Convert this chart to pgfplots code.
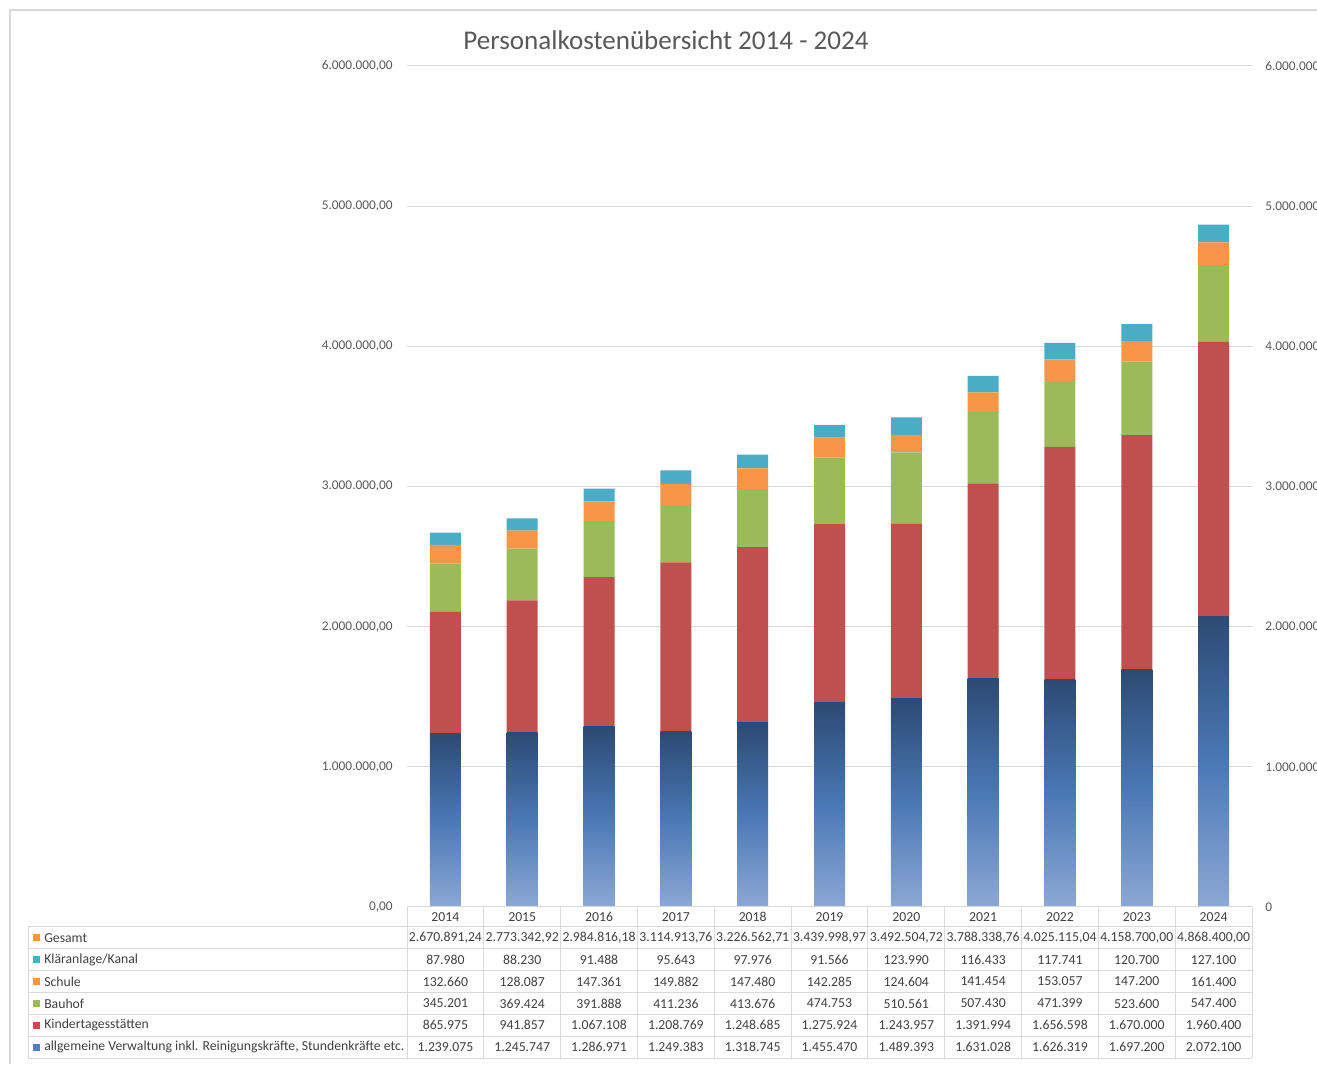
\documentclass[border=0pt]{standalone}
\usepackage{fontspec}
\setmainfont{Carlito}
\usepackage{pgfplots}
\pgfplotsset{compat=1.18}
\definecolor{txt}{HTML}{595959}
\definecolor{tabtxt}{HTML}{404040}
\definecolor{gridgray}{HTML}{D9D9D9}
\definecolor{bordergray}{HTML}{D9D9D9}
\definecolor{cBlueTop}{HTML}{2C4A73}
\definecolor{cBlueMid}{HTML}{4A78B5}
\definecolor{cBlueBot}{HTML}{8CA8D4}
\definecolor{cBlue}{HTML}{4F81BD}
\definecolor{cRed}{HTML}{C0504D}
\definecolor{cGreen}{HTML}{9BBB59}
\definecolor{cOrange}{HTML}{F79646}
\definecolor{cTeal}{HTML}{4BACC6}
\newcommand{\tabrow}[2]{%
  \foreach[count=\i from 0] \v in {#2} {
    \node[text=tabtxt, inner sep=0pt, font=\fontsize{10.3}{12}\selectfont] at ({305.25+(\i+0.5)*57.6136}, #1) {\v};
  }%
}
\newcommand{\tablabel}[3]{%
  \fill[#2] (24.75,{#1-2.6}) rectangle (30,{#1+2.6});
  \node[anchor=west, text=tabtxt, inner sep=0pt, font=\fontsize{10.3}{12}\selectfont] at (33,#1) {#3};
}
\pgfplotsset{blueshade/.style={draw=none, bar shift=0pt, top color=cBlueTop, bottom color=cBlueBot, middle color=cBlueMid}}
\begin{document}
\begin{tikzpicture}[x=1pt,y=1pt]
\path[use as bounding box] (0,0) rectangle (987.75,798);
\clip (0,0) rectangle (987.75,798);
\draw[color=bordergray, line width=1pt] (7.5,0) -- (7.5,790.5) -- (987.75,790.5);
\node[font=\fontsize{20.3}{24}\selectfont, text=txt] at (499.5,768) {Personalkostenübersicht 2014 - 2024};
\begin{axis}[
  at={(305.25pt,117.75pt)}, anchor=south west,
  scale only axis, width=633.75pt, height=630.75pt,
  xmin=-0.5, xmax=10.5, ymin=0, ymax=6000000,
  ybar stacked, bar width=23.25pt,
  axis line style={draw=none}, tick style={draw=none},
  ymajorgrids, grid style={color=gridgray, line width=0.75pt},
  scaled y ticks=false,
  ytick={0,1000000,2000000,3000000,4000000,5000000,6000000},
  yticklabels={{0,00},{1.000.000,00},{2.000.000,00},{3.000.000,00},{4.000.000,00},{5.000.000,00},{6.000.000,00}},
  yticklabel style={anchor=east, inner sep=0pt, xshift=-10.5pt, text=txt, font=\fontsize{10}{12}\selectfont},
  xtick={0,...,10},
  xticklabels={2014,2015,2016,2017,2018,2019,2020,2021,2022,2023,2024},
  xticklabel style={anchor=center, inner sep=0pt, yshift=-7.5pt, text=tabtxt, font=\fontsize{10.3}{12}\selectfont},
  clip=false,
]
% allgemeine Verwaltung (base of the stack; drawn with per-bar shading in the overlay axis below)
\addplot[draw=none, fill=none] coordinates {
 (0,1239075) (1,1245747) (2,1286971) (3,1249383) (4,1318745) (5,1455470)
 (6,1489393) (7,1631028) (8,1626319) (9,1697200) (10,2072100)};
\addplot[draw=none, fill=cRed] coordinates {
 (0,865975) (1,941857) (2,1067108) (3,1208769) (4,1248685) (5,1275924)
 (6,1243957) (7,1391994) (8,1656598) (9,1670000) (10,1960400)};
\addplot[draw=none, fill=cGreen] coordinates {
 (0,345201) (1,369424) (2,391888) (3,411236) (4,413676) (5,474753)
 (6,510561) (7,507430) (8,471399) (9,523600) (10,547400)};
\addplot[draw=none, fill=cOrange] coordinates {
 (0,132660) (1,128087) (2,147361) (3,149882) (4,147480) (5,142285)
 (6,124604) (7,141454) (8,153057) (9,147200) (10,161400)};
\addplot[draw=none, fill=cTeal] coordinates {
 (0,87980) (1,88230) (2,91488) (3,95643) (4,97976) (5,91566)
 (6,123990) (7,116433) (8,117741) (9,120700) (10,127100)};
\end{axis}
\begin{axis}[
  at={(305.25pt,117.75pt)}, anchor=south west,
  scale only axis, width=633.75pt, height=630.75pt,
  xmin=-0.5, xmax=10.5, ymin=0, ymax=6000000,
  ybar, bar width=23.25pt, hide axis,
]
\addplot[blueshade] coordinates {(0,1239075)};
\addplot[blueshade] coordinates {(1,1245747)};
\addplot[blueshade] coordinates {(2,1286971)};
\addplot[blueshade] coordinates {(3,1249383)};
\addplot[blueshade] coordinates {(4,1318745)};
\addplot[blueshade] coordinates {(5,1455470)};
\addplot[blueshade] coordinates {(6,1489393)};
\addplot[blueshade] coordinates {(7,1631028)};
\addplot[blueshade] coordinates {(8,1626319)};
\addplot[blueshade] coordinates {(9,1697200)};
\addplot[blueshade] coordinates {(10,2072100)};
\end{axis}
% right axis labels
\foreach \v/\t in {0/0,1/1.000.000,2/2.000.000,3/3.000.000,4/4.000.000,5/5.000.000,6/6.000.000}
  \node[anchor=west, inner sep=0pt, text=txt, font=\fontsize{10}{12}\selectfont] at (948.75,{117.75+\v*105.125}) {\t};
% table grid
\begin{scope}[color=gridgray, line width=0.75pt]
  \draw (305.25,117.75) -- (939,117.75);
  \foreach \k in {0,...,6} \draw (21,{102.75-\k*16.375}) -- (939,{102.75-\k*16.375});
  \draw (21,102.75) -- (21,4.5);
  \foreach \k in {0,...,11} \draw ({305.25+\k*57.6136},117.75) -- ({305.25+\k*57.6136},4.5);
\end{scope}
% table rows
\tablabel{94.5625}{cOrange}{Gesamt}
\tabrow{94.5625}{{2.670.891,24},{2.773.342,92},{2.984.816,18},{3.114.913,76},{3.226.562,71},{3.439.998,97},{3.492.504,72},{3.788.338,76},{4.025.115,04},{4.158.700,00},{4.868.400,00}}
\tablabel{78.1875}{cTeal}{Kläranlage/Kanal}
\tabrow{78.1875}{87.980,88.230,91.488,95.643,97.976,91.566,123.990,116.433,117.741,120.700,127.100}
\tablabel{61.8125}{cOrange}{Schule}
\tabrow{61.8125}{132.660,128.087,147.361,149.882,147.480,142.285,124.604,141.454,153.057,147.200,161.400}
\tablabel{45.4375}{cGreen}{Bauhof}
\tabrow{45.4375}{345.201,369.424,391.888,411.236,413.676,474.753,510.561,507.430,471.399,523.600,547.400}
\tablabel{29.0625}{cRed}{Kindertagesstätten}
\tabrow{29.0625}{865.975,941.857,1.067.108,1.208.769,1.248.685,1.275.924,1.243.957,1.391.994,1.656.598,1.670.000,1.960.400}
\tablabel{12.6875}{cBlue}{allgemeine Verwaltung inkl. Reinigungskräfte, Stundenkräfte etc.}
\tabrow{12.6875}{1.239.075,1.245.747,1.286.971,1.249.383,1.318.745,1.455.470,1.489.393,1.631.028,1.626.319,1.697.200,2.072.100}
\end{tikzpicture}
\end{document}
